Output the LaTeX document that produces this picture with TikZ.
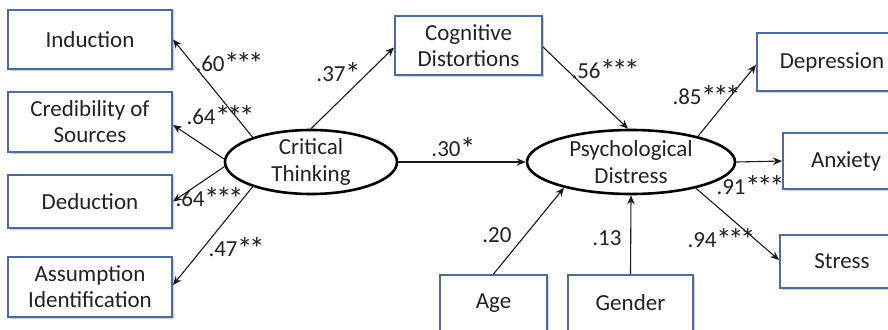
\documentclass[tikz,border=0pt]{standalone}
\usepackage{fontspec}
\setmainfont{Carlito}
\usetikzlibrary{shapes.geometric,arrows.meta,shadows}
\definecolor{boxblue}{HTML}{4A6C9E}
\definecolor{txt}{HTML}{222222}
\newcommand\sst{\kern-0.5pt\raisebox{-2.5pt}{\fontsize{31}{25}\selectfont *}\kern-3pt}
\tikzset{
  box/.style={draw=boxblue, line width=2pt, fill=white, rectangle, inner sep=0pt,
    align=center, text=txt, font=\fontsize{23}{26}\selectfont,
    drop shadow={shadow xshift=1.5pt, shadow yshift=-1.5pt, fill=black!40, opacity=0.45}},
  ell/.style={draw=black, line width=2.6pt, fill=white, ellipse, inner sep=0pt},
  elltext/.style={align=center, text=txt, font=\fontsize{23}{27}\selectfont, inner sep=0pt},
  lab/.style={text=txt, font=\fontsize{23}{25}\selectfont, inner sep=0pt},
  conn/.style={draw=black!90, line width=1.1pt, -{Stealth[length=9pt,width=7.5pt,inset=3pt]}}
}
\begin{document}
\begin{tikzpicture}[x=1pt,y=-1pt]
\useasboundingbox (0,0) rectangle (888,329);
% left indicator boxes
\node[box, minimum width=164pt, minimum height=59pt] (ind) at (90,39.5) {Induction};
\node[box, minimum width=164pt, minimum height=60pt] (cred) at (90,122) {Credibility of\\Sources};
\node[box, minimum width=164pt, minimum height=53pt] (ded) at (90,201.5) {Deduction};
\node[box, minimum width=164pt, minimum height=60pt] (asm) at (90,287) {Assumption\\Identification};
% middle
\node[box, minimum width=147pt, minimum height=59pt] (cog) at (468.5,45.5) {Cognitive\\Distortions};
\node[box, minimum width=107pt, minimum height=56pt] (age) at (493.5,303) {Age};
\node[box, minimum width=125pt, minimum height=56pt] (gen) at (630.5,303) {Gender};
% right
\node[box, minimum width=150pt, minimum height=58pt] (dep) at (832,62) {Depression};
\node[box, minimum width=126pt, minimum height=56pt] (anx) at (846,161) {Anxiety};
\node[box, minimum width=124pt, minimum height=53pt] (str) at (842,261.5) {Stress};
% ellipses
\node[ell, minimum width=172pt, minimum height=64pt] (ct) at (311,162) {};
\node[elltext] (cttext) at (ct) {Critical\\Thinking};
\node[ell, minimum width=208pt, minimum height=64pt] (pd) at (631,162) {};
\node[elltext] (pdtext) at (pd) {Psychological\\Distress};
% connectors
\draw[conn] (ct.157) -- (ind.east);
\draw[conn] (ct.178) -- ([yshift=-3pt]cred.east);
\draw[conn] (ct.183) -- (ded.east);
\draw[conn] (ct.203) -- ([yshift=2pt]asm.east);
\draw[conn] (ct.north) -- ([yshift=-2pt]cog.west);
\draw[conn] (ct.east) -- (pd.west);
\draw[conn] ([yshift=-1.5pt]cog.east) -- ([xshift=-3pt]pd.north);
\draw[conn] (age.north) -- (pd.201);
\draw[conn] (gen.north) -- (pd.south);
\draw[conn] (pd.21) -- ([yshift=-3pt]dep.west);
\draw[conn] (pd.east) -- (anx.west);
\draw[conn] (pd.338) -- ([yshift=1.5pt]str.west);
% labels
\node[lab] (l1) at (228,63) {.60\sst\sst\sst};
\node[lab] (l2) at (219,116) {.64\sst\sst\sst};
\node[lab] (l3) at (208,198) {.64\sst\sst\sst};
\node[lab] (l4) at (235,248) {.47\sst\sst};
\node[lab] (l5) at (337,73) {.37\sst};
\node[lab] (l6) at (452,148) {.30\sst};
\node[lab] (l7) at (604,70) {.56\sst\sst\sst};
\node[lab] (l8) at (497,235) {.20};
\node[lab] (l9) at (607,238) {.13};
\node[lab] (l10) at (705,96) {.85\sst\sst\sst};
\node[lab] (l11) at (749,186) {.91\sst\sst\sst};
\node[lab] (l12) at (720,239) {.94\sst\sst\sst};
\end{tikzpicture}
\end{document}
